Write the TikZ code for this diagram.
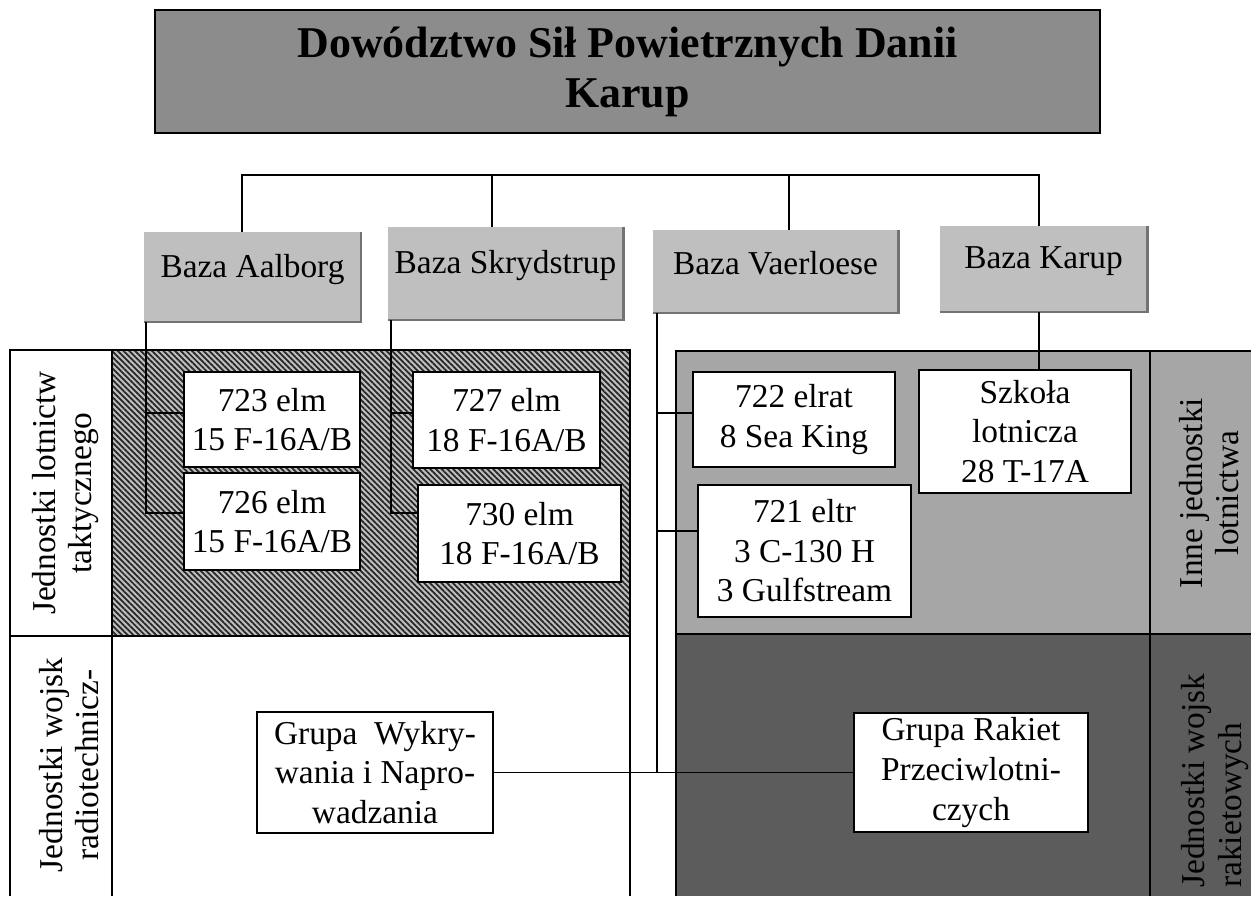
\documentclass[tikz,border=0pt]{standalone}
\usepackage{fontspec}
\setmainfont{Liberation Serif}
\usetikzlibrary{patterns.meta}
\begin{document}
\begin{tikzpicture}[x=0.02cm,y=-0.02cm,
  txt/.style={font=\fontsize{19}{22.5}\selectfont},
  unit/.style 2 args={txt, draw=black, line width=0.9pt, fill=white,
    minimum width=#1*0.02cm, minimum height=#2*0.02cm, inner sep=0pt, align=center},
  base/.style 2 args={txt, fill=black!25, minimum width=#1*0.02cm,
    minimum height=#2*0.02cm, inner sep=0pt},
  conn/.style={line width=0.9pt},
  frame/.style={line width=0.9pt},
  rowlabel/.style={font=\fontsize{19}{20.5}\selectfont, rotate=90, align=center, inner sep=0pt},
]
\useasboundingbox (0,0) rectangle (1251,896);

% shaded areas of the two tables
\fill[black!25] (112,350) rectangle (630,636);
\fill[pattern={Lines[angle=-45,distance=2.3pt,line width=1pt]}, pattern color=black!85]
  (112,350) rectangle (630,636);
\fill[black!35] (676,351) rectangle (1251,634);
\fill[black!64] (676,634) rectangle (1251,896);

% table frames
\draw[frame] (10,896) -- (10,350) -- (630,350) -- (630,896);
\draw[frame] (112,350) -- (112,896);
\draw[frame] (10,636) -- (630,636);
\draw[frame] (676,896) -- (676,351) -- (1251,351);
\draw[frame] (1150,351) -- (1150,896);
\draw[frame] (676,634) -- (1251,634);

% headquarters
\node[draw=black, line width=1.1pt, fill=black!45, minimum width=945*0.02cm,
  minimum height=123*0.02cm, inner sep=0pt, align=center,
  font=\fontsize{25}{28.5}\selectfont\bfseries] (hq) at (627.5,71.5)
  {Dowództwo Sił Powietrznych Danii\\Karup};

% air bases
\node[base={217}{90}]  (bA) at (252.5,277)  {\raisebox{4.5pt}[\height][\depth]{Baza Aalborg}};
\node[base={235}{93}]  (bS) at (505.5,273.5) {\raisebox{4.5pt}[\height][\depth]{Baza Skrydstrup}};
\node[base={245}{83}]  (bV) at (775.5,271.5) {\raisebox{4.5pt}[\height][\depth]{Baza Vaerloese}};
\node[base={207}{86}]  (bK) at (1043.5,269) {\raisebox{4.5pt}[\height][\depth]{Baza Karup}};
\foreach \b in {bA,bS,bV,bK}
  \draw[black!55, line width=1.3pt] (\b.south west) -- (\b.south east) -- (\b.north east);

% squadrons and other units
\node[unit={176}{95}]  (e723) at (272,419.5)   {723 elm\\15 F-16A/B};
\node[unit={176}{97}]  (e726) at (272,521.5)   {726 elm\\15 F-16A/B};
\node[unit={187}{96}]  (e727) at (506.5,420)   {727 elm\\18 F-16A/B};
\node[unit={203}{97}]  (e730) at (519.5,533.5) {730 elm\\18 F-16A/B};
\node[unit={202}{95}]  (e722) at (794,419.5)   {722 elrat\\8 Sea King};
\node[unit={213}{132}] (e721) at (804.5,551)   {721 eltr\\3 C-130 H\\3 Gulfstream};
\node[unit={212}{123}] (szk)  at (1025,431.5)  {Szkoła\\lotnicza\\28 T-17A};
\node[unit={236}{121}] (gw)   at (375,772.5)   {Grupa\enspace Wykry-\\wania i Napro-\\wadzania};
\node[unit={234}{119}] (gr)   at (971,772.5)   {Grupa Rakiet\\Przeciwlotni-\\czych};

% row labels
\node[rowlabel] (lTT) at (66,493)  {Jednostki lotnictw\\taktycznego};
\node[rowlabel] (lRT) at (69,765)  {Jednostki wojsk\\radiotechnicz-};
\node[rowlabel] (lIL) at (1209,493) {Inne jednostki\\lotnictwa};
\node[rowlabel, align=left, anchor=west] (lWR) at (1215,888) {Jednostki wojsk\\rakietowych};

% line positions
\coordinate (bus) at (0,175);
\coordinate (tA) at (242,0);
\coordinate (tS) at (492,0);
\coordinate (tV) at (789,0);
\coordinate (tK) at (1039,0);
\coordinate (dA) at (146,0);
\coordinate (dS) at (391,0);
\coordinate (dV) at (657,0);
\coordinate (y1) at (0,413);
\coordinate (y2) at (0,513);
\coordinate (y3) at (0,531);

% bases under the headquarters
\draw[conn] (bA.north -| tA) -- (tA |- bus) -- (tK |- bus) -- (bK.north -| tK);
\draw[conn] (tS |- bus) -- (bS.north -| tS);
\draw[conn] (tV |- bus) -- (bV.north -| tV);

% units under each base
\draw[conn] (bA.south -| dA) -- (dA |- y2) -- (e726.west |- y2);
\draw[conn] (dA |- y1) -- (e723.west |- y1);
\draw[conn] (bS.south -| dS) -- (dS |- y2) -- (e730.west |- y2);
\draw[conn] (dS |- y1) -- (e727.west |- y1);
\draw[conn] (bV.south -| dV) -- (dV |- gr.west);
\draw[conn] (dV |- y1) -- (e722.west |- y1);
\draw[conn] (dV |- y3) -- (e721.west |- y3);
\draw[conn] (gw.east) -- (gr.west);
\draw[conn] (bK.south -| tK) -- (szk.north -| tK);
\end{tikzpicture}
\end{document}
